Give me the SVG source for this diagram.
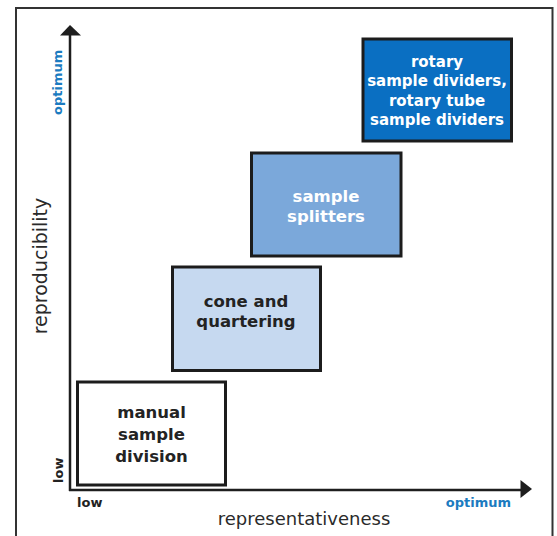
<svg xmlns="http://www.w3.org/2000/svg" width="557" height="536" viewBox="0 0 557 536">
<style>
.box{stroke:#1c1c1c;stroke-width:3}
.bt{font-family:"DejaVu Sans",Verdana,sans-serif;font-weight:bold;text-anchor:middle}
.dark{fill:#232323;font-size:16.5px}
.light{fill:#ffffff}
.ax{fill:none;stroke:#1e1e1e;stroke-width:2.5}
.lbl{font-family:"DejaVu Sans",Verdana,sans-serif;fill:#2a2a2a}
.tick{font-family:"DejaVu Sans",Verdana,sans-serif;font-weight:bold;font-size:13px}
.blue{fill:#1b7bc0}
</style>
<rect x="0" y="0" width="557" height="536" fill="#ffffff"/>
<rect x="16" y="8" width="536.5" height="540" fill="none" stroke="#333333" stroke-width="2"/>
<g id="connectors">
<line class="ax" x1="70" y1="34" x2="70" y2="491"/>
<polygon points="70,25 60,35.5 81,35.5" fill="#1e1e1e"/>
<line class="ax" x1="69" y1="490" x2="522" y2="490"/>
<polygon points="532,489 520.5,480 520.5,498" fill="#1e1e1e"/>
</g>
<g id="axis-labels">
<text class="lbl" font-size="19" transform="translate(47,266) rotate(-90)" text-anchor="middle">reproducibility</text>
<text class="lbl" font-size="18" x="304" y="525" text-anchor="middle">representativeness</text>
<text class="tick blue" transform="translate(62,115) rotate(-90)">optimum</text>
<text class="tick" fill="#222" transform="translate(63,483) rotate(-90)">low</text>
<text class="tick" fill="#222" x="77" y="507">low</text>
<text class="tick blue" x="511" y="507" text-anchor="end">optimum</text>
</g>
<g id="manual">
<rect class="box" x="77.5" y="382" width="148" height="103" fill="#ffffff"/>
<text class="bt dark" x="151.5" y="418">manual</text>
<text class="bt dark" x="151.5" y="440">sample</text>
<text class="bt dark" x="151.5" y="462">division</text>
</g>
<g id="cone">
<rect class="box" x="172.5" y="267" width="148" height="103.5" fill="#c6d9f0"/>
<text class="bt dark" x="246" y="306.5">cone and</text>
<text class="bt dark" x="246" y="326.5">quartering</text>
</g>
<g id="splitters">
<rect class="box" x="251.5" y="153" width="149.5" height="103" fill="#7ba8da"/>
<text class="bt light" font-size="16.5" x="326" y="201.5">sample</text>
<text class="bt light" font-size="16.5" x="326" y="221.5">splitters</text>
</g>
<g id="rotary">
<rect class="box" x="363" y="39" width="148.5" height="102" fill="#0a6fc2"/>
<text class="bt light" font-size="15" x="437" y="67">rotary</text>
<text class="bt light" font-size="15" x="437" y="86.3">sample dividers,</text>
<text class="bt light" font-size="15" x="437" y="105.7">rotary tube</text>
<text class="bt light" font-size="15" x="437" y="125">sample dividers</text>
</g>
</svg>
